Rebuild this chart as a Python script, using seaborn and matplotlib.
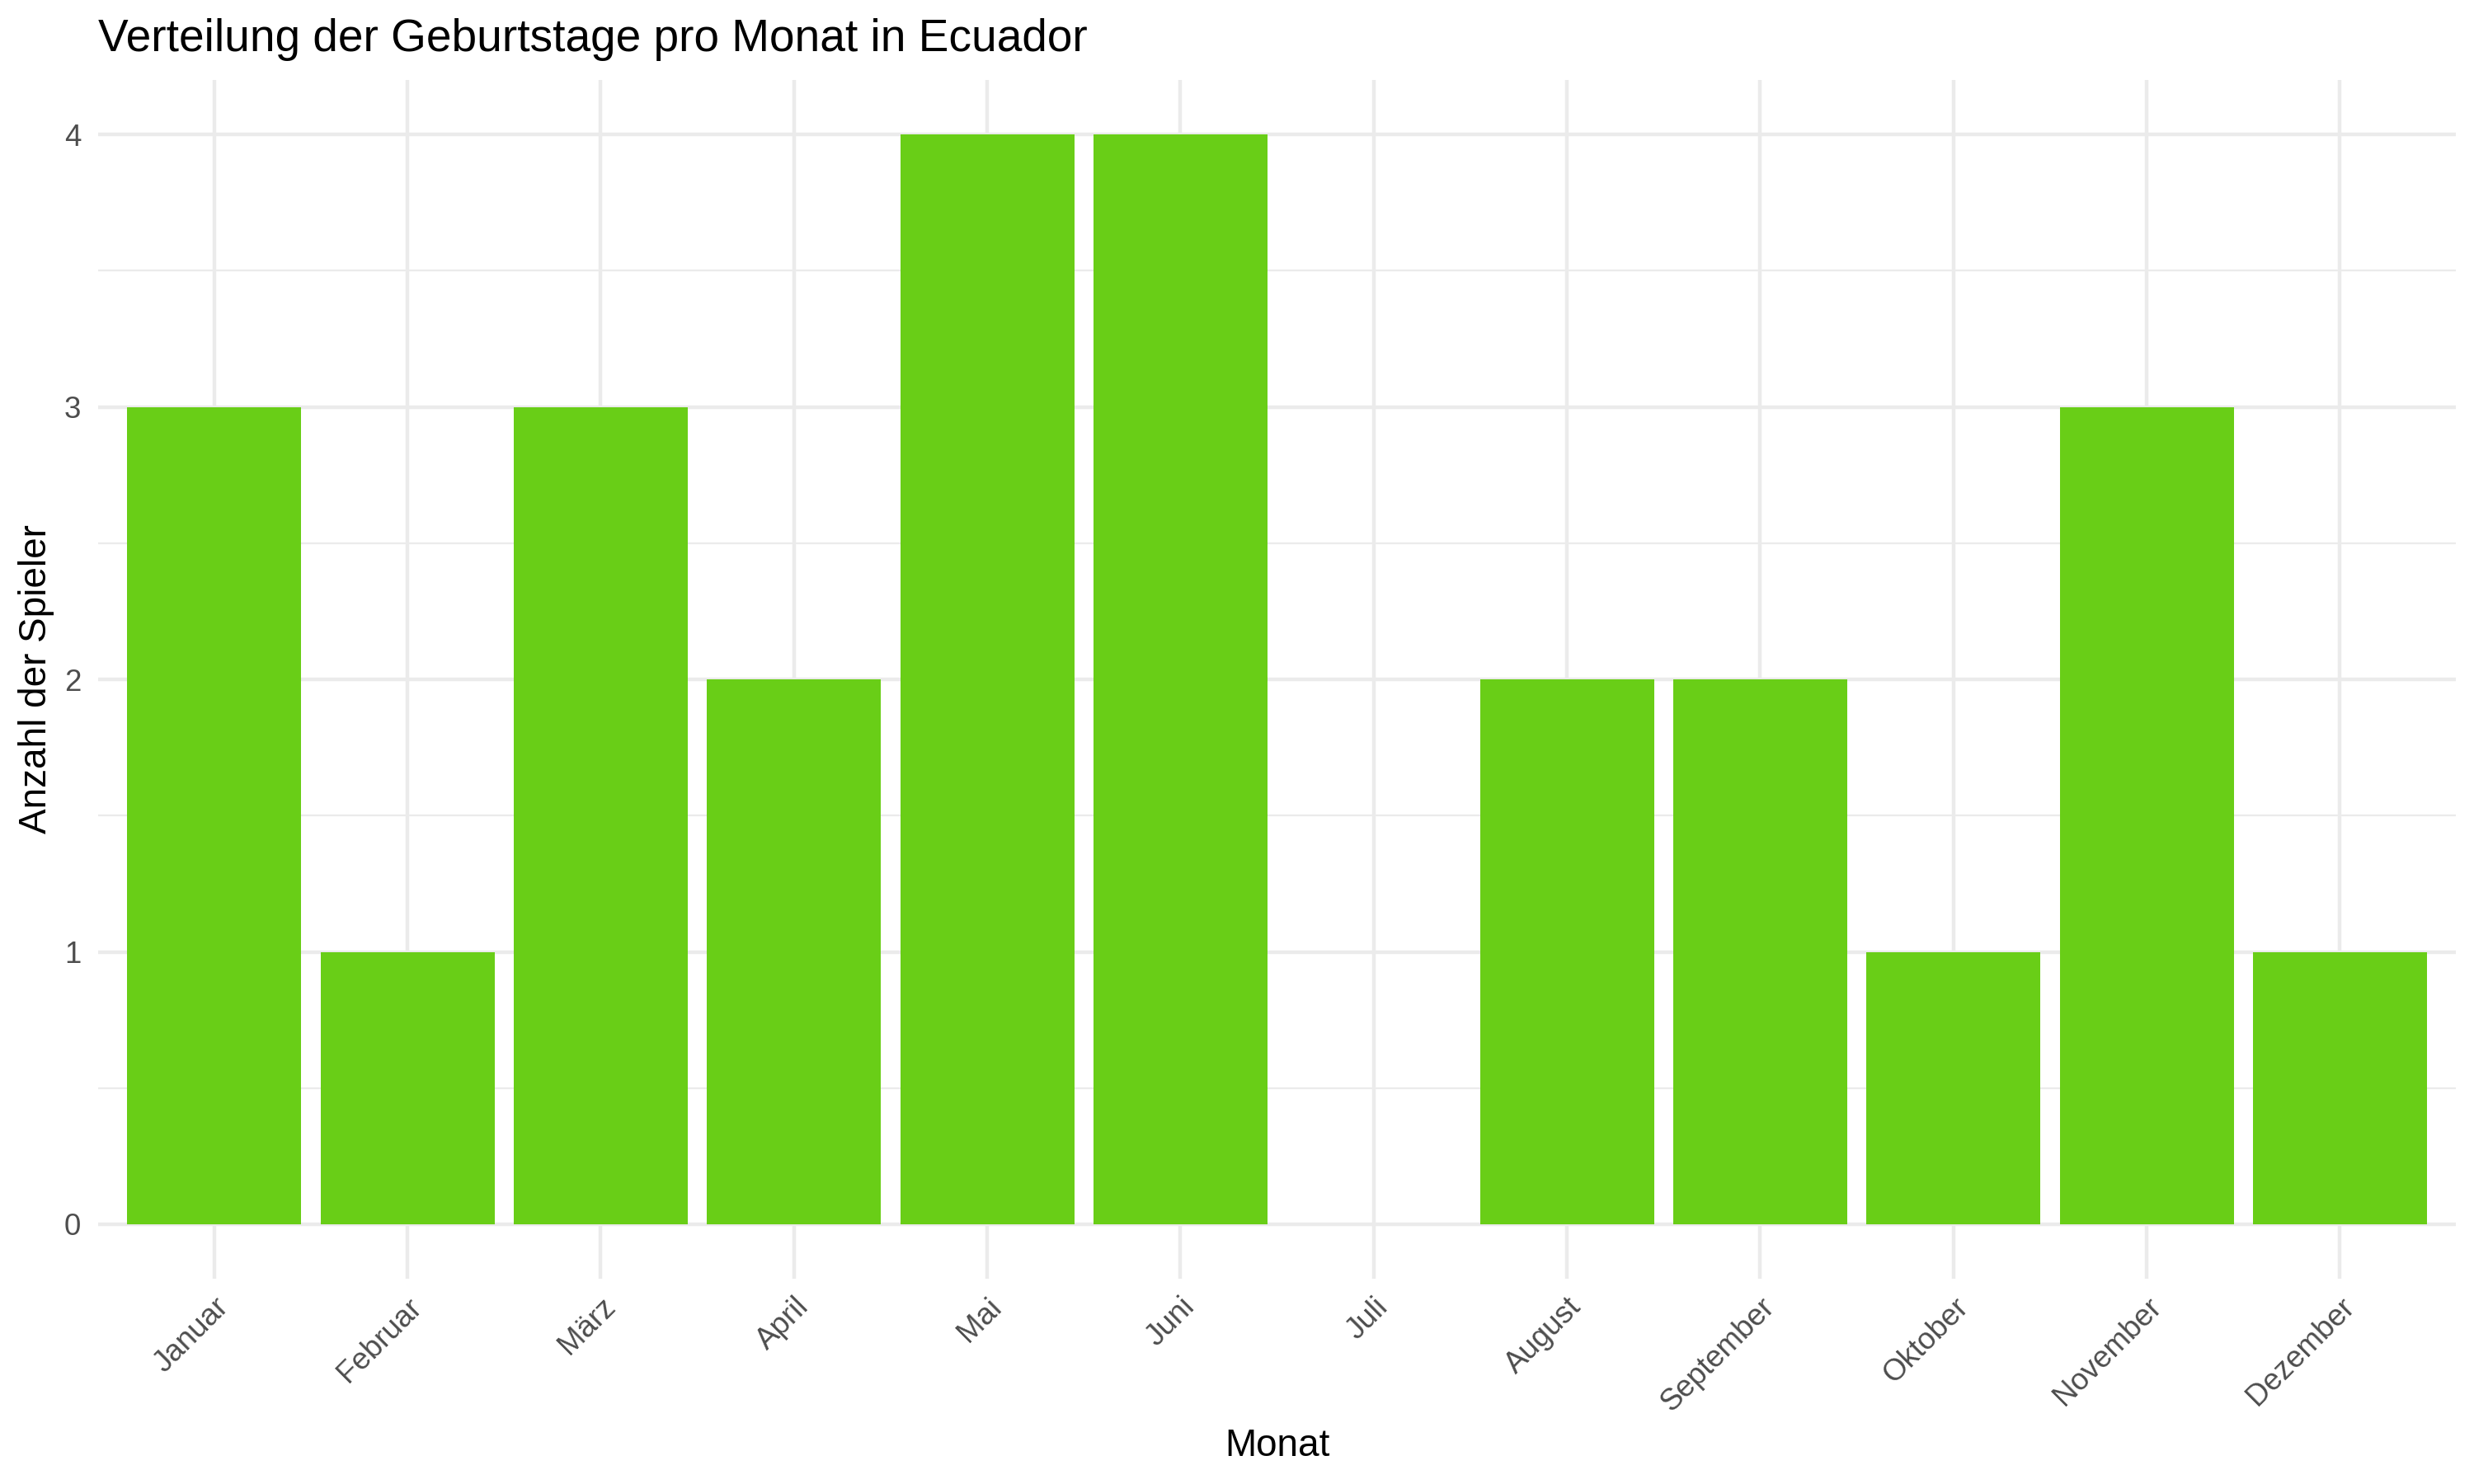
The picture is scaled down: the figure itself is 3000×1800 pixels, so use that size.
import pandas as pd
import matplotlib.pyplot as plt
import seaborn as sns
from matplotlib.ticker import MultipleLocator

# Anzahl Spieler je Geburtsmonat
monate = ['Januar', 'Februar', 'März', 'April', 'Mai', 'Juni', 'Juli',
          'August', 'September', 'Oktober', 'November', 'Dezember']
anzahl = [3, 1, 3, 2, 4, 4, 0, 2, 2, 1, 3, 1]

BAR_COLOR = '#69CE17'
GRID_COLOR = '#EBEBEB'

df = pd.DataFrame({'Monat': monate, 'Anzahl': anzahl})

sns.set_theme(style='white')
plt.rcParams['font.family'] = ['Liberation Sans', 'DejaVu Sans']

fig = plt.figure(figsize=(10, 6), dpi=300)
ax = fig.add_axes([0.0397, 0.1383, 0.9530, 0.8078])

sns.barplot(data=df, x='Monat', y='Anzahl', order=monate, color=BAR_COLOR,
            saturation=1, width=0.9, linewidth=0, edgecolor='none',
            ax=ax, zorder=2)

ax.set_xlim(-0.6, 11.6)
ax.set_ylim(-0.2, 4.2)
ax.set_yticks(range(0, 5))
ax.yaxis.set_minor_locator(MultipleLocator(0.5))

# ggplot-like minimal grid
ax.set_axisbelow(True)
ax.grid(which='major', axis='both', color=GRID_COLOR, linewidth=1.07)
ax.grid(which='minor', axis='y', color=GRID_COLOR, linewidth=0.53)
for s in ax.spines.values():
    s.set_visible(False)

ax.tick_params(axis='both', which='both', length=0, labelsize=8.8,
               labelcolor='#4D4D4D')
ax.tick_params(axis='y', pad=5)
ax.tick_params(axis='x', pad=4)
plt.setp(ax.get_xticklabels(), rotation=45, ha='right', va='top',
         rotation_mode='anchor')

ax.set_xlabel('Monat', fontsize=11, color='black', labelpad=3.2)
ax.set_ylabel('Anzahl der Spieler', fontsize=11, color='black', labelpad=2.75)
ax.set_title('Verteilung der Geburtstage pro Monat in Ecuador', loc='left',
             fontsize=13.2, color='black', pad=8.4)

fig.savefig('out.png', dpi=300, facecolor='white')
